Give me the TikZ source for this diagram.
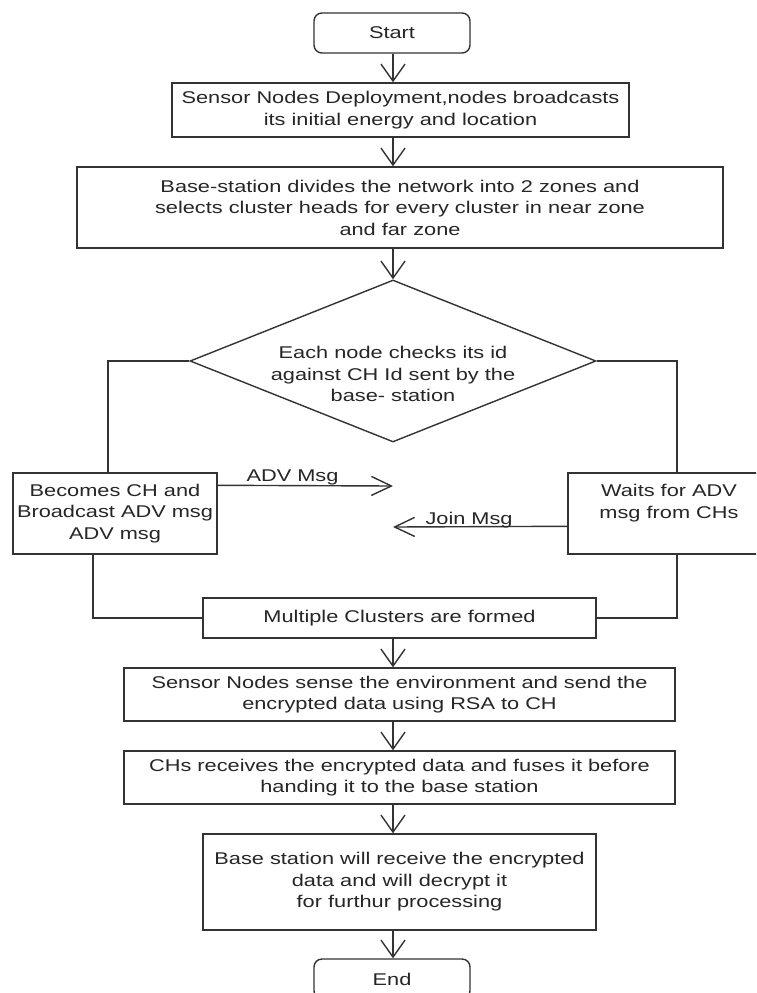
\documentclass[tikz,border=0pt]{standalone}
\usepackage{fontspec}
\setmainfont{Liberation Sans}[FakeStretch=1.28]
\usetikzlibrary{arrows.meta,shapes.geometric,calc}
\begin{document}
\begin{tikzpicture}[x=1pt,y=-1pt,
  every node/.style={font=\fontsize{17}{21.5}\selectfont, text=black!85},
  box/.style={draw=black!80, line width=1.4pt, rectangle, align=center, inner sep=0pt},
  term/.style={box, rounded corners=8pt, minimum width=156pt, minimum height=40pt},
  conn/.style={draw=black!80, line width=1.4pt},
  varr/.style={conn, -{Straight Barb[length=17pt,width=24pt]}},
  harr/.style={conn, -{Straight Barb[length=20pt,width=19pt]}}
]
\useasboundingbox (0,0) rectangle (756,993);
\fill[white] (0,0) rectangle (756,993);
\clip (0,0) rectangle (756,993);

\coordinate (ax) at (393,0);
\coordinate (advtip) at (393,486);
\coordinate (jointip) at (393,527);

\node[term] (start) at (392,33) {Start};
\node[box, minimum width=457pt, minimum height=54pt] (b1) at (400.5,110)
  {Sensor Nodes Deployment,nodes broadcasts\\its initial energy and location};
\node[box, minimum width=646pt, minimum height=81pt] (b2) at (400,207.5)
  {Base-station divides the network into 2 zones and\\selects cluster heads for every cluster in near zone\\and far zone};
\node[diamond, draw=black!80, line width=1.4pt, inner sep=0pt,
  minimum width=406pt, minimum height=162pt,
  label={[align=center,yshift=-13pt]center:{Each node checks its id\\against CH Id sent by the\\base- station}}] (dec) at (393,361) {};
\node[box, minimum width=204pt, minimum height=81pt] (cb) at (115,513.5)
  {Becomes CH and\\Broadcast ADV msg\\ADV msg};
\node[box, minimum width=202pt, minimum height=81pt,
  label={[align=center,yshift=10.5pt]center:{Waits for ADV\\msg from CHs}}] (wait) at (669,513.5) {};
\node[box, minimum width=393pt, minimum height=40pt] (mc) at (399.5,618)
  {Multiple Clusters are formed};
\node[box, minimum width=551pt, minimum height=53pt] (s3) at (399.5,694.5)
  {Sensor Nodes sense the environment and send the\\encrypted data using RSA to CH};
\node[box, minimum width=551pt, minimum height=53pt] (s4) at (399.5,777.5)
  {CHs receives the encrypted data and fuses it before\\handing it to the base station};
\node[box, minimum width=393pt, minimum height=96pt] (s5) at (399.5,882)
  {Base station will receive the encrypted\\data and will decrypt it\\for furthur processing};
\node[term] (end) at (392,979) {End};

\draw[varr] (ax |- start.south) -- (ax |- b1.north);
\draw[varr] (ax |- b1.south) -- (ax |- b2.north);
\draw[varr] (ax |- b2.south) -- (dec.north);
\draw[varr] (ax |- mc.south) -- (ax |- s3.north);
\draw[varr] (ax |- s3.south) -- (ax |- s4.north);
\draw[varr] (ax |- s4.south) -- (ax |- s5.north);
\draw[varr] (ax |- s5.south) -- (ax |- end.north);

\draw[conn] (dec.west) -| ([xshift=-7pt]cb.north);
\draw[conn] (dec.east) -| ([xshift=8pt]wait.north);
\draw[conn] ([xshift=-22pt]cb.south) |- (mc.west);
\draw[conn] ([xshift=8pt]wait.south) |- (mc.east);

\draw[harr] ([yshift=-13pt]cb.north east) -- (advtip);
\draw[harr] ([yshift=-54pt]wait.north west) -- (jointip);
\node[anchor=base west] (advl) at (243,481) {ADV Msg};
\node[anchor=base west] (joinl) at (422,524) {Join Msg};
\end{tikzpicture}
\end{document}
